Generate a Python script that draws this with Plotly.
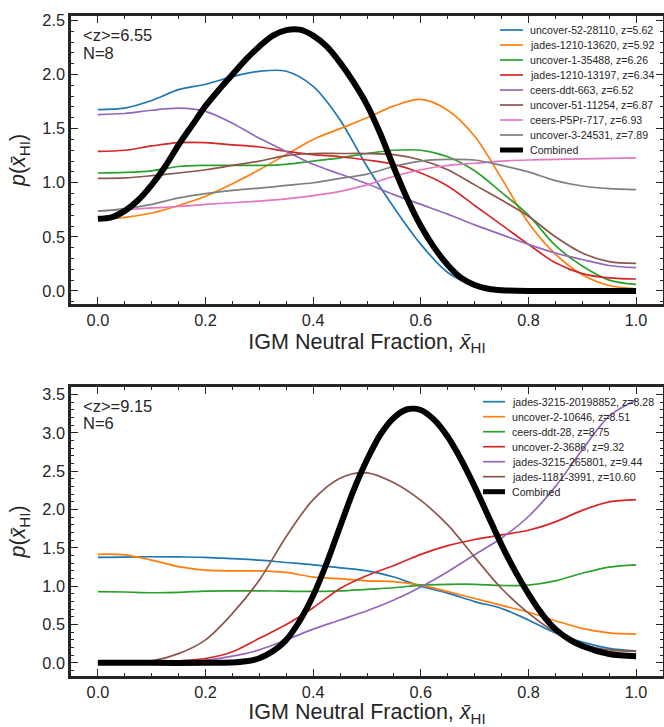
import plotly.graph_objects as go

# ---------------- data ----------------
x_vals = [0.0, 0.05, 0.1, 0.15, 0.2, 0.25, 0.3, 0.35, 0.4, 0.45, 0.5,
          0.55, 0.6, 0.65, 0.7, 0.75, 0.8, 0.85, 0.9, 0.95, 1.0]

top_names = ["uncover-52-28110, z=5.62", "jades-1210-13620, z=5.92",
             "uncover-1-35488, z=6.26", "jades-1210-13197, z=6.34",
             "ceers-ddt-663, z=6.52", "uncover-51-11254, z=6.87",
             "ceers-P5Pr-717, z=6.93", "uncover-3-24531, z=7.89"]
top_uncover_52_28110 = [1.676, 1.69, 1.76, 1.86, 1.91, 1.98, 2.03, 2.03, 1.89, 1.58, 1.15,
                        0.77, 0.43, 0.17, 0.05, 0.01, 0.0, 0.0, 0.0, 0.0, 0.0]
top_jades_1210_13620 = [0.666, 0.68, 0.72, 0.79, 0.875, 0.99, 1.12, 1.26, 1.40, 1.50, 1.60,
                        1.71, 1.77, 1.67, 1.43, 1.04, 0.63, 0.34, 0.15, 0.05, 0.02]
top_uncover_1_35488 = [1.09, 1.095, 1.11, 1.15, 1.16, 1.16, 1.16, 1.17, 1.20, 1.23, 1.27,
                       1.30, 1.30, 1.24, 1.11, 0.91, 0.70, 0.42, 0.23, 0.10, 0.06]
top_jades_1210_13197 = [1.29, 1.30, 1.34, 1.37, 1.37, 1.35, 1.33, 1.29, 1.26, 1.24, 1.21,
                        1.17, 1.09, 0.97, 0.79, 0.61, 0.43, 0.26, 0.16, 0.12, 0.11]
top_ceers_ddt_663 = [1.63, 1.64, 1.67, 1.69, 1.66, 1.55, 1.41, 1.29, 1.17, 1.08, 0.99,
                     0.89, 0.80, 0.71, 0.61, 0.52, 0.43, 0.35, 0.29, 0.235, 0.215]
top_uncover_51_11254 = [1.04, 1.045, 1.065, 1.09, 1.12, 1.16, 1.20, 1.25, 1.27, 1.27, 1.27,
                        1.26, 1.21, 1.12, 0.98, 0.84, 0.69, 0.50, 0.35, 0.27, 0.255]
top_ceers_P5Pr_717 = [0.737, 0.75, 0.767, 0.78, 0.80, 0.815, 0.83, 0.85, 0.88, 0.92, 0.98,
                      1.06, 1.12, 1.16, 1.18, 1.20, 1.21, 1.215, 1.22, 1.225, 1.23]
top_uncover_3_24531 = [0.737, 0.76, 0.80, 0.86, 0.90, 0.93, 0.95, 0.975, 1.0, 1.04, 1.08,
                       1.15, 1.20, 1.215, 1.21, 1.16, 1.10, 1.02, 0.97, 0.945, 0.936]
top_series = [top_uncover_52_28110, top_jades_1210_13620, top_uncover_1_35488,
              top_jades_1210_13197, top_ceers_ddt_663, top_uncover_51_11254,
              top_ceers_P5Pr_717, top_uncover_3_24531]

top_combined_x = [0.0, 0.025, 0.05, 0.075, 0.1, 0.125, 0.15, 0.175, 0.2, 0.225, 0.25,
                  0.275, 0.3, 0.325, 0.35, 0.375, 0.4, 0.425, 0.45, 0.475, 0.5,
                  0.525, 0.55, 0.575, 0.6, 0.625, 0.65, 0.675, 0.7, 0.725, 0.75,
                  0.8, 0.9, 1.0]
top_combined = [0.666, 0.68, 0.74, 0.84, 0.98, 1.15, 1.35, 1.53, 1.71, 1.86, 2.0,
                2.14, 2.26, 2.36, 2.41, 2.415, 2.36, 2.26, 2.11, 1.93, 1.72,
                1.45, 1.14, 0.85, 0.60, 0.40, 0.24, 0.12, 0.055, 0.02, 0.006,
                0.0, 0.0, 0.0]

bot_names = ["jades-3215-20198852, z=8.28", "uncover-2-10646, z=8.51",
             "ceers-ddt-28, z=8.75", "uncover-2-3686, z=9.32",
             "jades-3215-265801, z=9.44", "jades-1181-3991, z=10.60"]
bot_jades_3215_20198852 = [1.377, 1.38, 1.385, 1.382, 1.377, 1.36, 1.34, 1.31, 1.28, 1.24, 1.20,
                           1.12, 1.0, 0.91, 0.80, 0.71, 0.56, 0.39, 0.27, 0.19, 0.157]
bot_uncover_2_10646 = [1.416, 1.41, 1.34, 1.255, 1.21, 1.20, 1.20, 1.18, 1.12, 1.10, 1.07,
                       1.06, 1.015, 0.93, 0.84, 0.75, 0.66, 0.55, 0.45, 0.39, 0.375]
bot_ceers_ddt_28 = [0.93, 0.925, 0.915, 0.92, 0.937, 0.94, 0.94, 0.935, 0.932, 0.94, 0.96,
                    0.98, 1.015, 1.025, 1.025, 1.01, 1.015, 1.07, 1.17, 1.25, 1.28]
bot_uncover_2_3686 = [0.0, 0.003, 0.01, 0.026, 0.057, 0.144, 0.32, 0.50, 0.72, 0.97, 1.14,
                      1.27, 1.416, 1.53, 1.61, 1.67, 1.73, 1.84, 1.99, 2.10, 2.13]
bot_jades_3215_265801 = [0.0, 0.001, 0.004, 0.013, 0.035, 0.087, 0.17, 0.30, 0.44, 0.56, 0.68,
                         0.82, 0.99, 1.19, 1.41, 1.63, 1.91, 2.30, 2.78, 3.22, 3.43]
bot_jades_1181_3991 = [0.0, 0.005, 0.026, 0.12, 0.30, 0.645, 1.08, 1.65, 2.13, 2.41, 2.48,
                       2.35, 2.12, 1.80, 1.38, 0.97, 0.65, 0.40, 0.24, 0.17, 0.15]
bot_series = [bot_jades_3215_20198852, bot_uncover_2_10646, bot_ceers_ddt_28,
              bot_uncover_2_3686, bot_jades_3215_265801, bot_jades_1181_3991]

bot_combined_x = [0.0, 0.1, 0.2, 0.25, 0.275, 0.3, 0.325, 0.35, 0.375, 0.4, 0.425,
                  0.45, 0.475, 0.5, 0.525, 0.55, 0.575, 0.6, 0.625, 0.65, 0.675,
                  0.7, 0.725, 0.75, 0.775, 0.8, 0.825, 0.85, 0.875, 0.9, 0.95, 1.0]
bot_combined = [0.0, 0.0, 0.0, 0.005, 0.02, 0.06, 0.15, 0.30, 0.55, 0.88, 1.30,
                1.78, 2.25, 2.65, 2.98, 3.20, 3.31, 3.30, 3.17, 2.95, 2.65,
                2.30, 1.92, 1.54, 1.20, 0.90, 0.64, 0.44, 0.31, 0.22, 0.115, 0.087]

colors = ["#1f77b4", "#ff7f0e", "#2ca02c", "#d62728",
          "#9467bd", "#8c564b", "#e377c2", "#7f7f7f"]

x_ticks = [0.0, 0.2, 0.4, 0.6, 0.8, 1.0]
top_stats = ["&lt;z&gt;=6.55", "N=8"]
bot_stats = ["&lt;z&gt;=9.15", "N=6"]

# ---------------- layout helpers ----------------
W, H = 664, 727
ML, MR, MT, MB = 71, 1, 16, 51
PW, PH = W - ML - MR, H - MT - MB
INK = "#262626"
FONT = "Liberation Sans, Arial, sans-serif"


def px(x):
    return (x - ML) / PW


def py(y):
    return 1 - (y - MT) / PH


fig = go.Figure()

for i, (name, vals) in enumerate(zip(top_names, top_series)):
    fig.add_trace(go.Scatter(x=x_vals, y=vals, mode="lines", name=name,
                             line=dict(color=colors[i], width=1.7, shape="spline", smoothing=0.9),
                             xaxis="x", yaxis="y", showlegend=False))
fig.add_trace(go.Scatter(x=top_combined_x, y=top_combined, mode="lines", name="Combined",
                         line=dict(color="black", width=6, shape="spline", smoothing=0.8),
                         xaxis="x", yaxis="y", showlegend=False))

for i, (name, vals) in enumerate(zip(bot_names, bot_series)):
    fig.add_trace(go.Scatter(x=x_vals, y=vals, mode="lines", name=name,
                             line=dict(color=colors[i], width=1.7, shape="spline", smoothing=0.9),
                             xaxis="x2", yaxis="y2", showlegend=False))
fig.add_trace(go.Scatter(x=bot_combined_x, y=bot_combined, mode="lines", name="Combined",
                         line=dict(color="black", width=6, shape="spline", smoothing=0.8),
                         xaxis="x2", yaxis="y2", showlegend=False))

annotations = []
shapes = []


def add_legend(names, line_x0, line_x1, text_x, y0):
    entries = list(zip(names, colors[:len(names)], [1.7] * len(names)))
    entries.append(("Combined", "black", 5))
    for k, (name, col, wdt) in enumerate(entries):
        yy = y0 + 15 * k
        shapes.append(dict(type="line", xref="paper", yref="paper",
                           x0=px(line_x0), x1=px(line_x1), y0=py(yy), y1=py(yy),
                           line=dict(color=col, width=wdt)))
        annotations.append(dict(text=name, xref="paper", yref="paper",
                                x=px(text_x), y=py(yy), xanchor="left", yanchor="middle",
                                showarrow=False, borderpad=0,
                                font=dict(size=10.6, color=INK, family=FONT)))


add_legend(top_names, 500, 523, 529, 30)
add_legend(bot_names, 483, 505, 511, 401.7)

for txt, yy in zip(top_stats, [35, 53]):
    annotations.append(dict(text=txt, xref="paper", yref="paper", x=px(82), y=py(yy),
                            xanchor="left", yanchor="middle", showarrow=False, borderpad=0,
                            font=dict(size=16.5, color=INK, family=FONT)))
for txt, yy in zip(bot_stats, [405.7, 423.3]):
    annotations.append(dict(text=txt, xref="paper", yref="paper", x=px(82), y=py(yy),
                            xanchor="left", yanchor="middle", showarrow=False, borderpad=0,
                            font=dict(size=16.5, color=INK, family=FONT)))

xtitle = "IGM Neutral Fraction, <i>x\u0304</i><sub>HI</sub>"
ytitle = "<i>p</i>(<i>x\u0304</i><sub>HI</sub>)"


def xaxis(anchor):
    return dict(anchor=anchor, domain=[0, 1], range=[-0.05, 1.05],
                tickmode="array", tickvals=x_ticks, ticktext=[f"{v:.1f}" for v in x_ticks],
                ticks="inside", ticklen=7, tickwidth=1.3, tickcolor=INK,
                minor=dict(ticks="inside", ticklen=3.5, tickwidth=1, tickcolor=INK,
                           dtick=0.05, tick0=0),
                mirror="allticks", showline=True, linewidth=2.5, linecolor=INK,
                showgrid=False, zeroline=False,
                tickfont=dict(size=16.3, color=INK, family=FONT),
                title=dict(text=xtitle, font=dict(size=21.5, color=INK, family=FONT),
                           standoff=6))


def yaxis(anchor, dom, rng):
    return dict(anchor=anchor, domain=dom, range=rng,
                tick0=0, dtick=0.5, tickformat=".1f",
                ticks="inside", ticklen=7, tickwidth=1.3, tickcolor=INK,
                minor=dict(ticks="inside", ticklen=3.5, tickwidth=1, tickcolor=INK,
                           dtick=0.1, tick0=0),
                mirror="allticks", showline=True, linewidth=2.5, linecolor=INK,
                showgrid=False, zeroline=False,
                tickfont=dict(size=16.3, color=INK, family=FONT),
                title=dict(text=ytitle, font=dict(size=21.5, color=INK, family=FONT),
                           standoff=11))


fig.update_layout(
    width=W, height=H,
    margin=dict(l=ML, r=MR, t=MT, b=MB, autoexpand=False),
    paper_bgcolor="white", plot_bgcolor="white",
    font=dict(family=FONT, color=INK),
    xaxis=xaxis("y"),
    yaxis=yaxis("x", [py(304), py(16)], [-0.121, 2.541]),
    xaxis2=xaxis("y2"),
    yaxis2=yaxis("x2", [py(676), py(387)], [-0.1715, 3.60]),
    annotations=annotations,
    shapes=shapes,
    showlegend=False,
)

fig.write_html("out.html")
